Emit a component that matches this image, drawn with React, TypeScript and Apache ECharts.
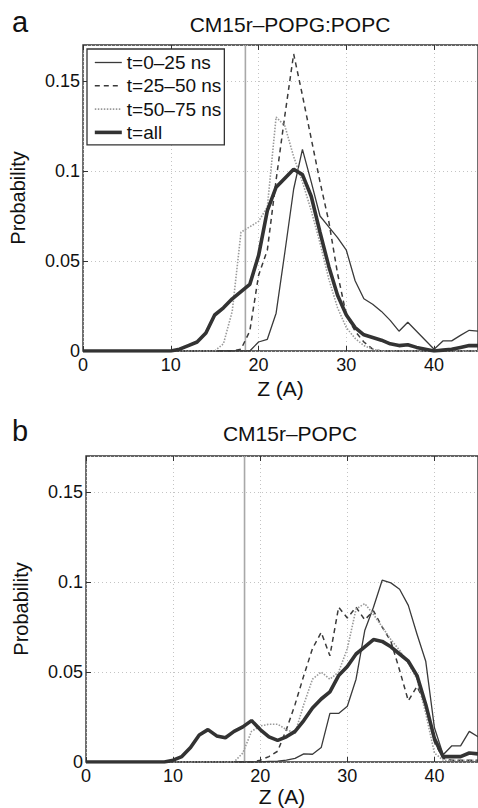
import React, { useEffect, useRef } from "react";
import * as echarts from "echarts";

const FONT = "'Liberation Sans', Arial, Helvetica, sans-serif";

const zValues = [
  0, 1, 2, 3, 4, 5, 6, 7, 8, 9, 10, 11, 12, 13, 14, 15, 16, 17, 18, 19, 20, 21, 22,
  23, 24, 25, 26, 27, 28, 29, 30, 31, 32, 33, 34, 35, 36, 37, 38, 39, 40, 41, 42, 43, 44, 45,
];

const seriesNames = ["t=0–25 ns", "t=25–50 ns", "t=50–75 ns", "t=all"];
const panelTitles = ["CM15r–POPG:POPC", "CM15r–POPC"];
const panelLetters = ["a", "b"];
const membraneZ = [18.5, 18.2];
const xTicks = [0, 10, 20, 30, 40];
const yTicks = [0, 0.05, 0.1, 0.15];

// Panel a
const aT0 = [
  0, 0, 0, 0, 0, 0, 0, 0, 0, 0, 0, 0, 0, 0, 0, 0, 0, 0, 0, 0,
  0.005, 0.0065, 0.021, 0.055, 0.09, 0.112, 0.094, 0.075, 0.069, 0.063, 0.056,
  0.039, 0.029, 0.026, 0.022, 0.017, 0.011, 0.016, 0.011, 0.006, 0.001,
  0.0056, 0.0056, 0.0087, 0.0115, 0.011,
];
const aT25 = [
  0, 0, 0, 0, 0, 0, 0, 0, 0, 0, 0, 0, 0, 0, 0, 0, 0, 0,
  0.001, 0.011, 0.042, 0.056, 0.095, 0.131, 0.165, 0.142, 0.118, 0.094, 0.072,
  0.043, 0.02, 0.011, 0.005, 0.001, 0, 0, 0, 0, 0, 0, 0, 0, 0, 0, 0, 0,
];
const aT50 = [
  0, 0, 0, 0, 0, 0, 0, 0, 0, 0, 0, 0, 0, 0, 0, 0,
  0.004, 0.022, 0.066, 0.069, 0.072, 0.08, 0.13, 0.125, 0.108, 0.094, 0.078,
  0.06, 0.04, 0.024, 0.013, 0.007, 0.003, 0.001, 0, 0, 0, 0, 0, 0, 0, 0, 0, 0, 0, 0,
];
const aAll = [
  0, 0, 0, 0, 0, 0, 0, 0, 0, 0, 0,
  0.001, 0.003, 0.005, 0.01, 0.02, 0.024, 0.029, 0.033, 0.037, 0.053, 0.078,
  0.091, 0.096, 0.101, 0.098, 0.086, 0.066, 0.047, 0.031, 0.02, 0.013, 0.009,
  0.0075, 0.006, 0.004, 0.003, 0.0035, 0.002, 0.001, 0, 0.0005, 0.001, 0.002,
  0.003, 0.003,
];

// Panel b
const bT0 = [
  0, 0, 0, 0, 0, 0, 0, 0, 0, 0, 0, 0, 0, 0, 0, 0, 0, 0, 0, 0, 0,
  0.0003, 0.0005, 0.001, 0.002, 0.0045, 0.0043, 0.008, 0.027, 0.027, 0.031,
  0.046, 0.073, 0.086, 0.101, 0.0995, 0.096, 0.087, 0.071, 0.056, 0.019,
  0.004, 0.009, 0.009, 0.017, 0.014,
];
const bT25 = [
  0, 0, 0, 0, 0, 0, 0, 0, 0, 0, 0, 0, 0, 0, 0, 0, 0, 0, 0, 0,
  0.001, 0.003, 0.006, 0.018, 0.032, 0.048, 0.063, 0.072, 0.059, 0.086, 0.08,
  0.086, 0.079, 0.084, 0.075, 0.067, 0.051, 0.034, 0.042, 0.032, 0.011,
  0.002, 0.001, 0.001, 0.001, 0.001,
];
const bT50 = [
  0, 0, 0, 0, 0, 0, 0, 0, 0, 0, 0, 0, 0, 0, 0, 0, 0, 0,
  0.005, 0.017, 0.02, 0.021, 0.021, 0.018, 0.016, 0.032, 0.046, 0.05, 0.046,
  0.05, 0.063, 0.085, 0.088, 0.082, 0.075, 0.068, 0.062, 0.055, 0.046, 0.027,
  0.005, 0.001, 0.001, 0.001, 0.001, 0.001,
];
const bAll = [
  0, 0, 0, 0, 0, 0, 0, 0, 0, 0,
  0.001, 0.003, 0.008, 0.015, 0.018, 0.0145, 0.0135, 0.017, 0.0195, 0.023,
  0.018, 0.014, 0.012, 0.014, 0.017, 0.023, 0.03, 0.035, 0.039, 0.048, 0.053,
  0.06, 0.064, 0.068, 0.067, 0.064, 0.06, 0.056, 0.048, 0.032, 0.013, 0.003,
  0.003, 0.003, 0.005, 0.0045,
];

const panels = [
  [aT0, aT25, aT50, aAll],
  [bT0, bT25, bT50, bAll],
];

const styles = [
  { color: "#3a3a3a", width: 1.3, type: "solid" as any },
  { color: "#3a3a3a", width: 1.5, type: [5, 4] as any },
  { color: "#9a9a9a", width: 1.6, type: [1.5, 1.5] as any },
  { color: "#333333", width: 3.6, type: "solid" as any },
];

const grids = [
  { left: 83, top: 45, width: 396, height: 306 },
  { left: 86, top: 456, width: 395, height: 306 },
];

const xAxisNameGap = [27, 24];

export default function App() {
  const ref = useRef<HTMLDivElement>(null);
  useEffect(() => {
    const chart = echarts.init(ref.current!, null, { renderer: "svg" });
    const xAxes: any[] = [];
    const yAxes: any[] = [];
    const series: any[] = [];
    const gridOpts: any[] = [];
    panels.forEach((panel, p) => {
      gridOpts.push({
        ...grids[p],
        show: true,
        borderColor: "#333",
        borderWidth: 1.4,
        backgroundColor: "transparent",
        containLabel: false,
      });
      const xmin = xTicks[0];
      xAxes.push({
        type: "value",
        gridIndex: p,
        min: xmin,
        max: 45,
        interval: 10,
        position: "bottom",
        name: "Z (A)",
        nameLocation: "middle",
        nameGap: xAxisNameGap[p],
        nameTextStyle: { fontSize: 21, fontFamily: FONT, color: "#111" },
        axisLine: { show: false },
        axisTick: { inside: true, length: 5, lineStyle: { color: "#333" } },
        axisLabel: {
          showMaxLabel: false,
          margin: 5,
          fontSize: 18,
          fontFamily: FONT,
          color: "#111",
        },
        splitLine: { show: true, lineStyle: { color: "#c4c4c4", type: [1, 3], width: 1 } },
      });
      xAxes.push({
        type: "value",
        gridIndex: p,
        min: xmin,
        max: 45,
        interval: 10,
        position: "top",
        axisLine: { show: false },
        axisTick: { inside: true, length: 5, lineStyle: { color: "#333" } },
        axisLabel: { show: false },
        splitLine: { show: false },
      });
      yAxes.push({
        type: "value",
        gridIndex: p,
        min: yTicks[0],
        max: 0.17,
        interval: 0.05,
        name: "Probability",
        nameLocation: "middle",
        nameGap: 55,
        nameTextStyle: { fontSize: 20, fontFamily: FONT, color: "#111" },
        axisLine: { show: false },
        axisTick: { inside: true, length: 5, lineStyle: { color: "#333" } },
        axisLabel: {
          showMaxLabel: false,
          margin: 3,
          fontSize: 18,
          fontFamily: FONT,
          color: "#111",
        },
        splitLine: { show: true, lineStyle: { color: "#c4c4c4", type: [1, 3], width: 1 } },
      });
      series.push({
        type: "line",
        name: "membrane",
        xAxisIndex: p * 2,
        yAxisIndex: p,
        data: [
          [membraneZ[p], 0],
          [membraneZ[p], 0.17],
        ],
        symbol: "none",
        silent: true,
        z: 1,
        lineStyle: { color: "#a8a8a8", width: 1.6 },
      });
      panel.forEach((vals, s) => {
        series.push({
          type: "line",
          name: seriesNames[s],
          xAxisIndex: p * 2,
          yAxisIndex: p,
          data: zValues.map((z, i) => [z, vals[i]]),
          symbol: "none",
          showSymbol: false,
          z: 2 + (s === 3 ? 1 : 0),
          color: styles[s].color,
          lineStyle: { ...styles[s] },
        });
      });
    });

    const graphics: any[] = [];
    const titleY = [24, 433];
    const letterY = [22, 431];
    panelTitles.forEach((t, p) => {
      graphics.push({
        type: "text",
        x: 290,
        y: titleY[p],
        style: {
          text: t,
          fontSize: 21,
          fontFamily: FONT,
          fill: "#111",
          textAlign: "center",
          textVerticalAlign: "middle",
          align: "center",
          verticalAlign: "middle",
        },
      });
      graphics.push({
        type: "text",
        x: 12,
        y: letterY[p],
        style: {
          text: panelLetters[p],
          fontSize: 29,
          fontFamily: FONT,
          fill: "#111",
          textAlign: "left",
          textVerticalAlign: "middle",
          align: "left",
          verticalAlign: "middle",
        },
      });
    });

    chart.setOption({
      animation: false,
      backgroundColor: "#fff",
      grid: gridOpts,
      xAxis: xAxes,
      yAxis: yAxes,
      series,
      graphic: graphics,
      legend: {
        data: seriesNames.map((n, i) => ({
          name: n,
          lineStyle: { width: styles[i].width, type: styles[i].type, color: styles[i].color },
        })),
        orient: "vertical",
        left: 87,
        top: 49,
        itemWidth: 27,
        itemHeight: 14,
        itemGap: 4.3,
        padding: [4, 3, 3, 6],
        borderColor: "#333",
        borderWidth: 1.3,
        borderRadius: 0,
        backgroundColor: "#fff",
        itemStyle: { opacity: 0 },
        textStyle: { fontSize: 19, fontFamily: FONT, color: "#111" },
      },
    });
    return () => chart.dispose();
  }, []);
  return (
    <div
      ref={ref}
      style={{ position: "fixed", left: 0, top: 0, width: 478, height: 808 }}
    />
  );
}
